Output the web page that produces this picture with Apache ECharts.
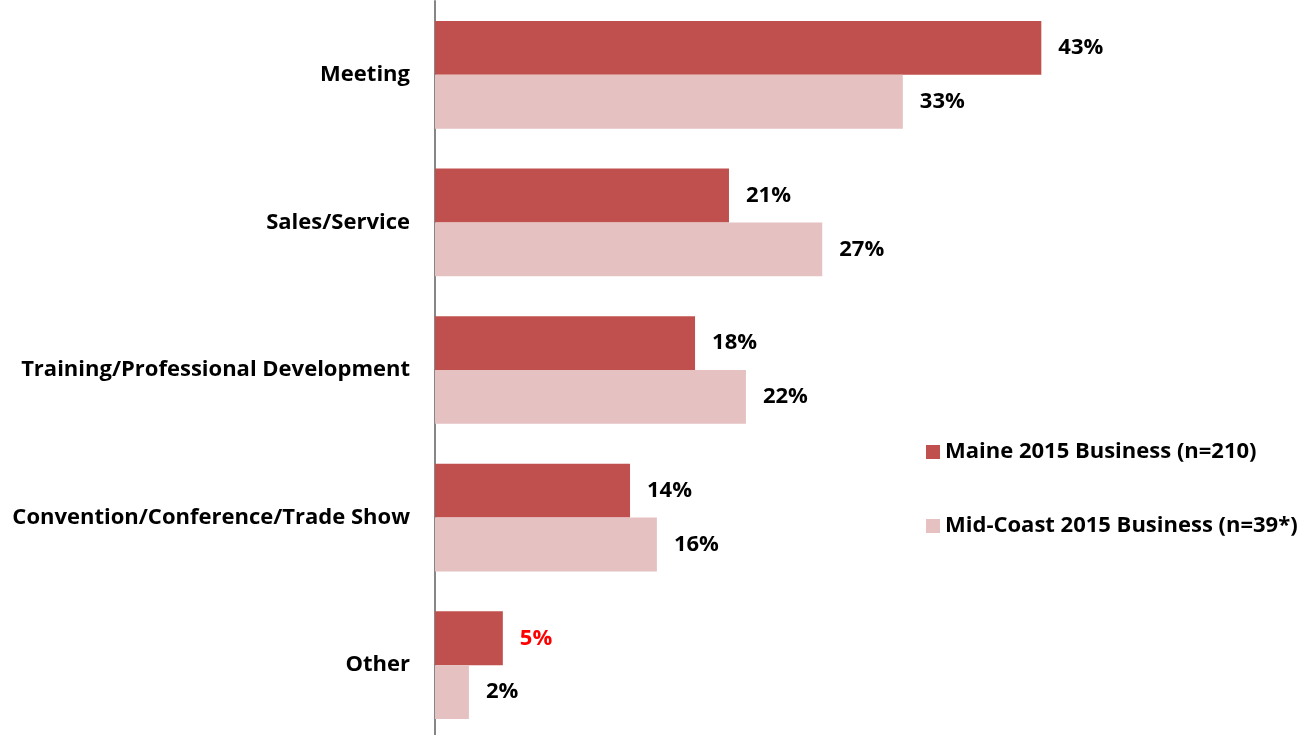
<!DOCTYPE html>
<html>
<head>
<meta charset="utf-8">
<style>html,body{margin:0;padding:0;background:#fff;}#c{width:1307px;height:735px;}</style>
<script src="https://cdn.jsdelivr.net/npm/echarts@6/dist/echarts.min.js"></script>
</head>
<body>
<div id="c"></div>
<script>
const categories = ['Meeting', 'Sales/Service', 'Training/Professional Development', 'Convention/Conference/Trade Show', 'Other'];
const seriesNames = ['Maine 2015 Business (n=210)', 'Mid-Coast 2015 Business (n=39*)'];
const maineValues = [42.9, 20.8, 18.4, 13.8, 4.8];
const midCoastValues = [33.1, 27.4, 22.0, 15.7, 2.4];
const colors = ['#C0504D', '#E5C1C2'];
const FONT = 'Open Sans';

const chart = echarts.init(document.getElementById('c'));
const labelCfg = {
  show: true, position: 'right', distance: 17,
  fontFamily: FONT, fontWeight: 'bold', fontSize: 22, color: '#000',
  formatter: p => Math.round(p.value) + '%'
};
chart.setOption({
  animation: false,
  grid: { left: 435, width: 848, top: 1, height: 738, containLabel: false, outerBoundsMode: 'none' },
  legend: {
    orient: 'vertical', left: 921, top: 436,
    itemWidth: 14, itemHeight: 14, itemGap: 52,
    icon: 'rect',
    textStyle: { fontFamily: FONT, fontWeight: 'bold', fontSize: 22, color: '#000', padding: [0, 0, 0, 0] },
    data: seriesNames
  },
  xAxis: { type: 'value', min: 0, max: 60, show: false },
  yAxis: {
    type: 'category', data: categories, inverse: true,
    axisLine: { show: true, lineStyle: { color: '#868686', width: 2 } },
    axisTick: { show: false },
    axisLabel: { margin: 25, fontFamily: FONT, fontWeight: 'bold', fontSize: 22, color: '#000' },
    splitLine: { show: false }
  },
  series: [
    {
      name: seriesNames[0], type: 'bar', barGap: '0%', barCategoryGap: '27%',
      itemStyle: { color: colors[0] },
      label: labelCfg,
      data: maineValues.map((v, i) => i === 4 ? { value: v, label: { color: '#FF0000' } } : v)
    },
    {
      name: seriesNames[1], type: 'bar', barGap: '0%', barCategoryGap: '27%',
      itemStyle: { color: colors[1] },
      label: labelCfg,
      data: midCoastValues
    }
  ]
});
</script>
</body>
</html>
